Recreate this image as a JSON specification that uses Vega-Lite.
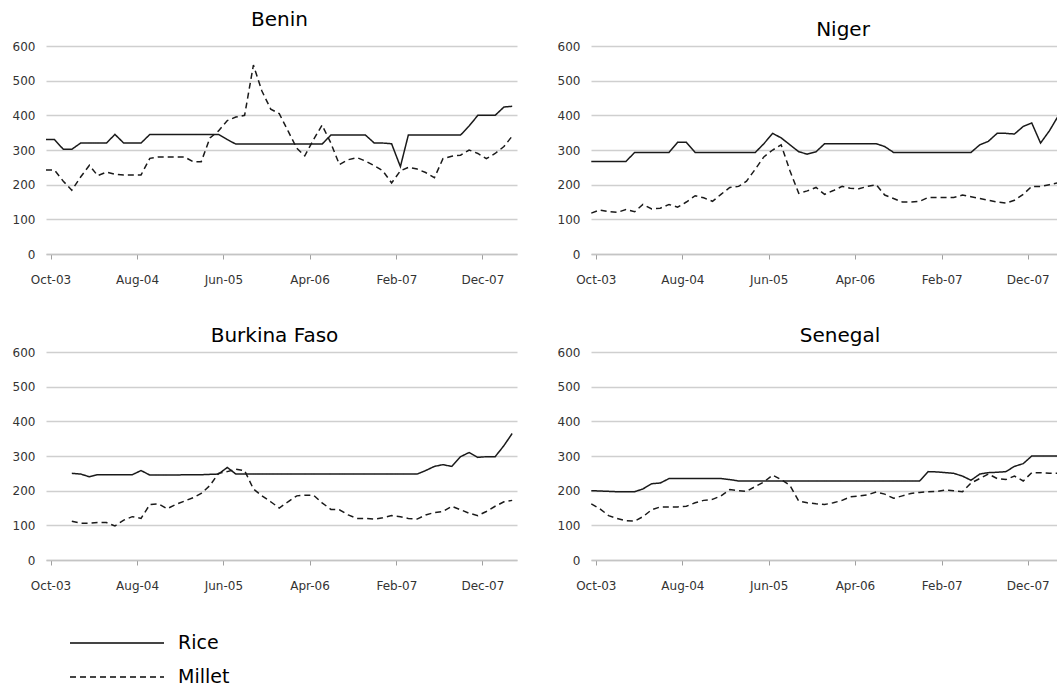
{
  "$schema": "https://vega.github.io/schema/vega-lite/v6.json",
  "background": "white",
  "padding": {"left": 12, "top": 10, "right": 0, "bottom": 0},
  "datasets": {
    "prices": [
      {"country":"Benin","date":"2003-09-15","Rice":330,"Millet":242},
      {"country":"Benin","date":"2003-10-15","Rice":330,"Millet":242},
      {"country":"Benin","date":"2003-11-15","Rice":302,"Millet":210},
      {"country":"Benin","date":"2003-12-15","Rice":302,"Millet":184},
      {"country":"Benin","date":"2004-01-15","Rice":320,"Millet":222},
      {"country":"Benin","date":"2004-02-15","Rice":320,"Millet":256},
      {"country":"Benin","date":"2004-03-15","Rice":320,"Millet":226},
      {"country":"Benin","date":"2004-04-15","Rice":320,"Millet":236},
      {"country":"Benin","date":"2004-05-15","Rice":345,"Millet":230},
      {"country":"Benin","date":"2004-06-15","Rice":320,"Millet":228},
      {"country":"Benin","date":"2004-07-15","Rice":320,"Millet":228},
      {"country":"Benin","date":"2004-08-15","Rice":320,"Millet":228},
      {"country":"Benin","date":"2004-09-15","Rice":345,"Millet":276},
      {"country":"Benin","date":"2004-10-15","Rice":345,"Millet":280},
      {"country":"Benin","date":"2004-11-15","Rice":345,"Millet":280},
      {"country":"Benin","date":"2004-12-15","Rice":345,"Millet":280},
      {"country":"Benin","date":"2005-01-15","Rice":345,"Millet":280},
      {"country":"Benin","date":"2005-02-15","Rice":345,"Millet":266},
      {"country":"Benin","date":"2005-03-15","Rice":345,"Millet":266},
      {"country":"Benin","date":"2005-04-15","Rice":345,"Millet":335},
      {"country":"Benin","date":"2005-05-15","Rice":345,"Millet":355},
      {"country":"Benin","date":"2005-06-15","Rice":330,"Millet":385},
      {"country":"Benin","date":"2005-07-15","Rice":317,"Millet":395},
      {"country":"Benin","date":"2005-08-15","Rice":317,"Millet":400},
      {"country":"Benin","date":"2005-09-15","Rice":317,"Millet":545},
      {"country":"Benin","date":"2005-10-15","Rice":317,"Millet":470},
      {"country":"Benin","date":"2005-11-15","Rice":317,"Millet":418},
      {"country":"Benin","date":"2005-12-15","Rice":317,"Millet":405},
      {"country":"Benin","date":"2006-01-15","Rice":317,"Millet":355},
      {"country":"Benin","date":"2006-02-15","Rice":317,"Millet":305},
      {"country":"Benin","date":"2006-03-15","Rice":317,"Millet":283},
      {"country":"Benin","date":"2006-04-15","Rice":317,"Millet":330},
      {"country":"Benin","date":"2006-05-15","Rice":317,"Millet":372},
      {"country":"Benin","date":"2006-06-15","Rice":343,"Millet":320},
      {"country":"Benin","date":"2006-07-15","Rice":343,"Millet":258},
      {"country":"Benin","date":"2006-08-15","Rice":343,"Millet":272},
      {"country":"Benin","date":"2006-09-15","Rice":343,"Millet":278},
      {"country":"Benin","date":"2006-10-15","Rice":343,"Millet":268},
      {"country":"Benin","date":"2006-11-15","Rice":320,"Millet":255},
      {"country":"Benin","date":"2006-12-15","Rice":320,"Millet":240},
      {"country":"Benin","date":"2007-01-15","Rice":318,"Millet":205},
      {"country":"Benin","date":"2007-02-15","Rice":252,"Millet":240},
      {"country":"Benin","date":"2007-03-15","Rice":343,"Millet":250},
      {"country":"Benin","date":"2007-04-15","Rice":343,"Millet":245},
      {"country":"Benin","date":"2007-05-15","Rice":343,"Millet":235},
      {"country":"Benin","date":"2007-06-15","Rice":343,"Millet":220},
      {"country":"Benin","date":"2007-07-15","Rice":343,"Millet":275},
      {"country":"Benin","date":"2007-08-15","Rice":343,"Millet":282},
      {"country":"Benin","date":"2007-09-15","Rice":343,"Millet":285},
      {"country":"Benin","date":"2007-10-15","Rice":369,"Millet":300},
      {"country":"Benin","date":"2007-11-15","Rice":400,"Millet":290},
      {"country":"Benin","date":"2007-12-15","Rice":400,"Millet":275},
      {"country":"Benin","date":"2008-01-15","Rice":400,"Millet":290},
      {"country":"Benin","date":"2008-02-15","Rice":424,"Millet":310},
      {"country":"Benin","date":"2008-03-15","Rice":426,"Millet":340},

      {"country":"Niger","date":"2003-09-15","Rice":267,"Millet":118},
      {"country":"Niger","date":"2003-10-15","Rice":267,"Millet":127},
      {"country":"Niger","date":"2003-11-15","Rice":267,"Millet":122},
      {"country":"Niger","date":"2003-12-15","Rice":267,"Millet":120},
      {"country":"Niger","date":"2004-01-15","Rice":267,"Millet":128},
      {"country":"Niger","date":"2004-02-15","Rice":293,"Millet":122},
      {"country":"Niger","date":"2004-03-15","Rice":293,"Millet":143},
      {"country":"Niger","date":"2004-04-15","Rice":293,"Millet":130},
      {"country":"Niger","date":"2004-05-15","Rice":293,"Millet":132},
      {"country":"Niger","date":"2004-06-15","Rice":293,"Millet":143},
      {"country":"Niger","date":"2004-07-15","Rice":322,"Millet":135},
      {"country":"Niger","date":"2004-08-15","Rice":322,"Millet":150},
      {"country":"Niger","date":"2004-09-15","Rice":293,"Millet":168},
      {"country":"Niger","date":"2004-10-15","Rice":293,"Millet":162},
      {"country":"Niger","date":"2004-11-15","Rice":293,"Millet":152},
      {"country":"Niger","date":"2004-12-15","Rice":293,"Millet":172},
      {"country":"Niger","date":"2005-01-15","Rice":293,"Millet":192},
      {"country":"Niger","date":"2005-02-15","Rice":293,"Millet":195},
      {"country":"Niger","date":"2005-03-15","Rice":293,"Millet":210},
      {"country":"Niger","date":"2005-04-15","Rice":293,"Millet":245},
      {"country":"Niger","date":"2005-05-15","Rice":318,"Millet":280},
      {"country":"Niger","date":"2005-06-15","Rice":348,"Millet":300},
      {"country":"Niger","date":"2005-07-15","Rice":335,"Millet":315},
      {"country":"Niger","date":"2005-08-15","Rice":315,"Millet":240},
      {"country":"Niger","date":"2005-09-15","Rice":295,"Millet":175},
      {"country":"Niger","date":"2005-10-15","Rice":288,"Millet":182},
      {"country":"Niger","date":"2005-11-15","Rice":295,"Millet":192},
      {"country":"Niger","date":"2005-12-15","Rice":318,"Millet":172},
      {"country":"Niger","date":"2006-01-15","Rice":318,"Millet":183},
      {"country":"Niger","date":"2006-02-15","Rice":318,"Millet":195},
      {"country":"Niger","date":"2006-03-15","Rice":318,"Millet":190},
      {"country":"Niger","date":"2006-04-15","Rice":318,"Millet":188},
      {"country":"Niger","date":"2006-05-15","Rice":318,"Millet":195},
      {"country":"Niger","date":"2006-06-15","Rice":318,"Millet":200},
      {"country":"Niger","date":"2006-07-15","Rice":310,"Millet":170},
      {"country":"Niger","date":"2006-08-15","Rice":293,"Millet":160},
      {"country":"Niger","date":"2006-09-15","Rice":293,"Millet":150},
      {"country":"Niger","date":"2006-10-15","Rice":293,"Millet":150},
      {"country":"Niger","date":"2006-11-15","Rice":293,"Millet":152},
      {"country":"Niger","date":"2006-12-15","Rice":293,"Millet":163},
      {"country":"Niger","date":"2007-01-15","Rice":293,"Millet":163},
      {"country":"Niger","date":"2007-02-15","Rice":293,"Millet":163},
      {"country":"Niger","date":"2007-03-15","Rice":293,"Millet":163},
      {"country":"Niger","date":"2007-04-15","Rice":293,"Millet":170},
      {"country":"Niger","date":"2007-05-15","Rice":293,"Millet":165},
      {"country":"Niger","date":"2007-06-15","Rice":315,"Millet":160},
      {"country":"Niger","date":"2007-07-15","Rice":325,"Millet":155},
      {"country":"Niger","date":"2007-08-15","Rice":348,"Millet":150},
      {"country":"Niger","date":"2007-09-15","Rice":348,"Millet":147},
      {"country":"Niger","date":"2007-10-15","Rice":346,"Millet":155},
      {"country":"Niger","date":"2007-11-15","Rice":368,"Millet":172},
      {"country":"Niger","date":"2007-12-15","Rice":378,"Millet":195},
      {"country":"Niger","date":"2008-01-15","Rice":320,"Millet":195},
      {"country":"Niger","date":"2008-02-15","Rice":355,"Millet":200},
      {"country":"Niger","date":"2008-03-15","Rice":395,"Millet":205},

      {"country":"Burkina Faso","date":"2003-12-15","Rice":250,"Millet":112},
      {"country":"Burkina Faso","date":"2004-01-15","Rice":248,"Millet":106},
      {"country":"Burkina Faso","date":"2004-02-15","Rice":240,"Millet":106},
      {"country":"Burkina Faso","date":"2004-03-15","Rice":246,"Millet":108},
      {"country":"Burkina Faso","date":"2004-04-15","Rice":246,"Millet":108},
      {"country":"Burkina Faso","date":"2004-05-15","Rice":246,"Millet":98},
      {"country":"Burkina Faso","date":"2004-06-15","Rice":246,"Millet":115},
      {"country":"Burkina Faso","date":"2004-07-15","Rice":246,"Millet":125},
      {"country":"Burkina Faso","date":"2004-08-15","Rice":258,"Millet":120},
      {"country":"Burkina Faso","date":"2004-09-15","Rice":245,"Millet":160},
      {"country":"Burkina Faso","date":"2004-10-15","Rice":245,"Millet":162},
      {"country":"Burkina Faso","date":"2004-11-15","Rice":245,"Millet":148},
      {"country":"Burkina Faso","date":"2004-12-15","Rice":245,"Millet":160},
      {"country":"Burkina Faso","date":"2005-01-15","Rice":246,"Millet":170},
      {"country":"Burkina Faso","date":"2005-02-15","Rice":246,"Millet":180},
      {"country":"Burkina Faso","date":"2005-03-15","Rice":246,"Millet":192},
      {"country":"Burkina Faso","date":"2005-04-15","Rice":247,"Millet":215},
      {"country":"Burkina Faso","date":"2005-05-15","Rice":248,"Millet":250},
      {"country":"Burkina Faso","date":"2005-06-15","Rice":267,"Millet":255},
      {"country":"Burkina Faso","date":"2005-07-15","Rice":248,"Millet":262},
      {"country":"Burkina Faso","date":"2005-08-15","Rice":248,"Millet":258},
      {"country":"Burkina Faso","date":"2005-09-15","Rice":248,"Millet":205},
      {"country":"Burkina Faso","date":"2005-10-15","Rice":248,"Millet":185},
      {"country":"Burkina Faso","date":"2005-11-15","Rice":248,"Millet":168},
      {"country":"Burkina Faso","date":"2005-12-15","Rice":248,"Millet":150},
      {"country":"Burkina Faso","date":"2006-01-15","Rice":248,"Millet":168},
      {"country":"Burkina Faso","date":"2006-02-15","Rice":248,"Millet":185},
      {"country":"Burkina Faso","date":"2006-03-15","Rice":248,"Millet":187},
      {"country":"Burkina Faso","date":"2006-04-15","Rice":248,"Millet":187},
      {"country":"Burkina Faso","date":"2006-05-15","Rice":248,"Millet":165},
      {"country":"Burkina Faso","date":"2006-06-15","Rice":248,"Millet":146},
      {"country":"Burkina Faso","date":"2006-07-15","Rice":248,"Millet":145},
      {"country":"Burkina Faso","date":"2006-08-15","Rice":248,"Millet":130},
      {"country":"Burkina Faso","date":"2006-09-15","Rice":248,"Millet":120},
      {"country":"Burkina Faso","date":"2006-10-15","Rice":248,"Millet":120},
      {"country":"Burkina Faso","date":"2006-11-15","Rice":248,"Millet":118},
      {"country":"Burkina Faso","date":"2006-12-15","Rice":248,"Millet":122},
      {"country":"Burkina Faso","date":"2007-01-15","Rice":248,"Millet":128},
      {"country":"Burkina Faso","date":"2007-02-15","Rice":248,"Millet":125},
      {"country":"Burkina Faso","date":"2007-03-15","Rice":248,"Millet":120},
      {"country":"Burkina Faso","date":"2007-04-15","Rice":248,"Millet":118},
      {"country":"Burkina Faso","date":"2007-05-15","Rice":258,"Millet":130},
      {"country":"Burkina Faso","date":"2007-06-15","Rice":270,"Millet":137},
      {"country":"Burkina Faso","date":"2007-07-15","Rice":275,"Millet":140},
      {"country":"Burkina Faso","date":"2007-08-15","Rice":270,"Millet":155},
      {"country":"Burkina Faso","date":"2007-09-15","Rice":298,"Millet":145},
      {"country":"Burkina Faso","date":"2007-10-15","Rice":310,"Millet":135},
      {"country":"Burkina Faso","date":"2007-11-15","Rice":296,"Millet":128},
      {"country":"Burkina Faso","date":"2007-12-15","Rice":298,"Millet":140},
      {"country":"Burkina Faso","date":"2008-01-15","Rice":298,"Millet":155},
      {"country":"Burkina Faso","date":"2008-02-15","Rice":330,"Millet":168},
      {"country":"Burkina Faso","date":"2008-03-15","Rice":365,"Millet":172},

      {"country":"Senegal","date":"2003-09-15","Rice":200,"Millet":162},
      {"country":"Senegal","date":"2003-10-15","Rice":199,"Millet":148},
      {"country":"Senegal","date":"2003-11-15","Rice":198,"Millet":128},
      {"country":"Senegal","date":"2003-12-15","Rice":197,"Millet":120},
      {"country":"Senegal","date":"2004-01-15","Rice":197,"Millet":113},
      {"country":"Senegal","date":"2004-02-15","Rice":197,"Millet":112},
      {"country":"Senegal","date":"2004-03-15","Rice":205,"Millet":125},
      {"country":"Senegal","date":"2004-04-15","Rice":220,"Millet":145},
      {"country":"Senegal","date":"2004-05-15","Rice":222,"Millet":153},
      {"country":"Senegal","date":"2004-06-15","Rice":235,"Millet":153},
      {"country":"Senegal","date":"2004-07-15","Rice":235,"Millet":153},
      {"country":"Senegal","date":"2004-08-15","Rice":235,"Millet":155},
      {"country":"Senegal","date":"2004-09-15","Rice":235,"Millet":165},
      {"country":"Senegal","date":"2004-10-15","Rice":235,"Millet":172},
      {"country":"Senegal","date":"2004-11-15","Rice":235,"Millet":175},
      {"country":"Senegal","date":"2004-12-15","Rice":235,"Millet":185},
      {"country":"Senegal","date":"2005-01-15","Rice":232,"Millet":203},
      {"country":"Senegal","date":"2005-02-15","Rice":228,"Millet":200},
      {"country":"Senegal","date":"2005-03-15","Rice":228,"Millet":198},
      {"country":"Senegal","date":"2005-04-15","Rice":228,"Millet":212},
      {"country":"Senegal","date":"2005-05-15","Rice":228,"Millet":225},
      {"country":"Senegal","date":"2005-06-15","Rice":228,"Millet":245},
      {"country":"Senegal","date":"2005-07-15","Rice":228,"Millet":232},
      {"country":"Senegal","date":"2005-08-15","Rice":228,"Millet":215},
      {"country":"Senegal","date":"2005-09-15","Rice":228,"Millet":170},
      {"country":"Senegal","date":"2005-10-15","Rice":228,"Millet":165},
      {"country":"Senegal","date":"2005-11-15","Rice":228,"Millet":162},
      {"country":"Senegal","date":"2005-12-15","Rice":228,"Millet":160},
      {"country":"Senegal","date":"2006-01-15","Rice":228,"Millet":165},
      {"country":"Senegal","date":"2006-02-15","Rice":228,"Millet":172},
      {"country":"Senegal","date":"2006-03-15","Rice":228,"Millet":182},
      {"country":"Senegal","date":"2006-04-15","Rice":228,"Millet":185},
      {"country":"Senegal","date":"2006-05-15","Rice":228,"Millet":188},
      {"country":"Senegal","date":"2006-06-15","Rice":228,"Millet":196},
      {"country":"Senegal","date":"2006-07-15","Rice":228,"Millet":190},
      {"country":"Senegal","date":"2006-08-15","Rice":228,"Millet":178},
      {"country":"Senegal","date":"2006-09-15","Rice":228,"Millet":185},
      {"country":"Senegal","date":"2006-10-15","Rice":228,"Millet":192},
      {"country":"Senegal","date":"2006-11-15","Rice":228,"Millet":195},
      {"country":"Senegal","date":"2006-12-15","Rice":255,"Millet":197},
      {"country":"Senegal","date":"2007-01-15","Rice":254,"Millet":198},
      {"country":"Senegal","date":"2007-02-15","Rice":252,"Millet":202},
      {"country":"Senegal","date":"2007-03-15","Rice":250,"Millet":200},
      {"country":"Senegal","date":"2007-04-15","Rice":242,"Millet":197},
      {"country":"Senegal","date":"2007-05-15","Rice":230,"Millet":222},
      {"country":"Senegal","date":"2007-06-15","Rice":248,"Millet":235},
      {"country":"Senegal","date":"2007-07-15","Rice":252,"Millet":248},
      {"country":"Senegal","date":"2007-08-15","Rice":253,"Millet":235},
      {"country":"Senegal","date":"2007-09-15","Rice":255,"Millet":232},
      {"country":"Senegal","date":"2007-10-15","Rice":270,"Millet":242},
      {"country":"Senegal","date":"2007-11-15","Rice":278,"Millet":228},
      {"country":"Senegal","date":"2007-12-15","Rice":300,"Millet":252},
      {"country":"Senegal","date":"2008-01-15","Rice":300,"Millet":252},
      {"country":"Senegal","date":"2008-02-15","Rice":300,"Millet":250},
      {"country":"Senegal","date":"2008-03-15","Rice":300,"Millet":250}
    ]
  },
  "data": {"name": "prices"},
  "transform": [{"fold": ["Rice", "Millet"], "as": ["series", "price"]}],
  "columns": 2,
  "spacing": {"row": 98, "column": 74},
  "bounds": "flush",
  "concat": [
    {
      "width": 471, "height": 208,
      "title": {"text": "Benin", "offset": 10, "dx": -2},
      "transform": [{"filter": "datum.country === 'Benin'"}],
      "mark": {"type": "line", "color": "#1a1a1a", "strokeWidth": 1.5},
      "encoding": {
        "x": {"field": "date", "type": "temporal",
          "scale": {"type": "utc", "domain": [{"year": 2003, "month": 9, "date": 15, "utc": true}, {"year": 2008, "month": 4, "date": 1, "utc": true}]},
          "axis": {"values": [{"year": 2003, "month": 10, "date": 1, "utc": true}, {"year": 2004, "month": 8, "date": 1, "utc": true}, {"year": 2005, "month": 6, "date": 1, "utc": true}, {"year": 2006, "month": 4, "date": 1, "utc": true}, {"year": 2007, "month": 2, "date": 1, "utc": true}, {"year": 2007, "month": 12, "date": 1, "utc": true}], "labelExpr": "utcFormat(datum.value, '%b-%y')"}},
        "y": {"field": "price", "type": "quantitative", "scale": {"domain": [0, 600]}},
        "strokeDash": {"field": "series", "type": "nominal", "scale": {"domain": ["Rice", "Millet"], "range": [[1, 0], [6, 4]]},
          "legend": {"orient": "none", "legendX": 23, "legendY": 587}}
      }
    },
    {
      "width": 466, "height": 208,
      "title": {"text": "Niger", "offset": 0, "dx": 19},
      "transform": [{"filter": "datum.country === 'Niger'"}],
      "mark": {"type": "line", "color": "#1a1a1a", "strokeWidth": 1.5},
      "encoding": {
        "x": {"field": "date", "type": "temporal",
          "scale": {"type": "utc", "domain": [{"year": 2003, "month": 9, "date": 14, "utc": true}, {"year": 2008, "month": 3, "date": 13, "utc": true}]},
          "axis": {"values": [{"year": 2003, "month": 10, "date": 1, "utc": true}, {"year": 2004, "month": 8, "date": 1, "utc": true}, {"year": 2005, "month": 6, "date": 1, "utc": true}, {"year": 2006, "month": 4, "date": 1, "utc": true}, {"year": 2007, "month": 2, "date": 1, "utc": true}, {"year": 2007, "month": 12, "date": 1, "utc": true}], "labelExpr": "utcFormat(datum.value, '%b-%y')"}},
        "y": {"field": "price", "type": "quantitative", "scale": {"domain": [0, 600]}},
        "strokeDash": {"field": "series", "type": "nominal", "scale": {"domain": ["Rice", "Millet"], "range": [[1, 0], [6, 4]]},
          "legend": {"orient": "none", "legendX": 23, "legendY": 587}}
      }
    },
    {
      "width": 471, "height": 208,
      "title": {"text": "Burkina Faso", "offset": 0, "dx": -7},
      "transform": [{"filter": "datum.country === 'Burkina Faso'"}],
      "mark": {"type": "line", "color": "#1a1a1a", "strokeWidth": 1.5},
      "encoding": {
        "x": {"field": "date", "type": "temporal",
          "scale": {"type": "utc", "domain": [{"year": 2003, "month": 9, "date": 15, "utc": true}, {"year": 2008, "month": 4, "date": 1, "utc": true}]},
          "axis": {"values": [{"year": 2003, "month": 10, "date": 1, "utc": true}, {"year": 2004, "month": 8, "date": 1, "utc": true}, {"year": 2005, "month": 6, "date": 1, "utc": true}, {"year": 2006, "month": 4, "date": 1, "utc": true}, {"year": 2007, "month": 2, "date": 1, "utc": true}, {"year": 2007, "month": 12, "date": 1, "utc": true}], "labelExpr": "utcFormat(datum.value, '%b-%y')"}},
        "y": {"field": "price", "type": "quantitative", "scale": {"domain": [0, 600]}},
        "strokeDash": {"field": "series", "type": "nominal", "scale": {"domain": ["Rice", "Millet"], "range": [[1, 0], [6, 4]]},
          "legend": {"orient": "none", "legendX": 23, "legendY": 587}}
      }
    },
    {
      "width": 466, "height": 208,
      "title": {"text": "Senegal", "offset": 0, "dx": 16},
      "transform": [{"filter": "datum.country === 'Senegal'"}],
      "mark": {"type": "line", "color": "#1a1a1a", "strokeWidth": 1.5},
      "encoding": {
        "x": {"field": "date", "type": "temporal",
          "scale": {"type": "utc", "domain": [{"year": 2003, "month": 9, "date": 14, "utc": true}, {"year": 2008, "month": 3, "date": 13, "utc": true}]},
          "axis": {"values": [{"year": 2003, "month": 10, "date": 1, "utc": true}, {"year": 2004, "month": 8, "date": 1, "utc": true}, {"year": 2005, "month": 6, "date": 1, "utc": true}, {"year": 2006, "month": 4, "date": 1, "utc": true}, {"year": 2007, "month": 2, "date": 1, "utc": true}, {"year": 2007, "month": 12, "date": 1, "utc": true}], "labelExpr": "utcFormat(datum.value, '%b-%y')"}},
        "y": {"field": "price", "type": "quantitative", "scale": {"domain": [0, 600]}},
        "strokeDash": {"field": "series", "type": "nominal", "scale": {"domain": ["Rice", "Millet"], "range": [[1, 0], [6, 4]]},
          "legend": {"orient": "none", "legendX": 23, "legendY": 587}}
      }
    }
  ],
  "config": {
    "view": {"stroke": null},
    "font": "DejaVu Sans",
    "title": {"fontSize": 20, "fontWeight": "normal", "color": "#000", "font": "DejaVu Sans", "frame": "group", "anchor": "middle"},
    "axisX": {"title": null, "grid": false, "domain": true, "domainColor": "#c4c4c4", "domainWidth": 1.5, "ticks": true, "tickColor": "#a0a0a0", "tickSize": 5, "tickWidth": 1, "labelPadding": 15, "labelFontSize": 12, "labelColor": "#333", "labelFont": "DejaVu Sans", "labelFlush": false},
    "axisY": {"title": null, "values": [0, 100, 200, 300, 400, 500, 600], "domain": false, "ticks": false, "grid": true, "gridColor": "#cfcfcf", "gridWidth": 1.5, "labelPadding": 11, "labelFontSize": 12, "labelColor": "#333", "labelFont": "DejaVu Sans"},
    "legend": {"title": null, "symbolType": "stroke", "symbolSize": 8836, "symbolStrokeWidth": 1.8, "symbolStrokeColor": "#444", "labelFontSize": 19, "labelFont": "DejaVu Sans", "labelColor": "#000", "labelOffset": 13, "clipHeight": 20, "rowPadding": 14, "padding": 0}
  }
}
